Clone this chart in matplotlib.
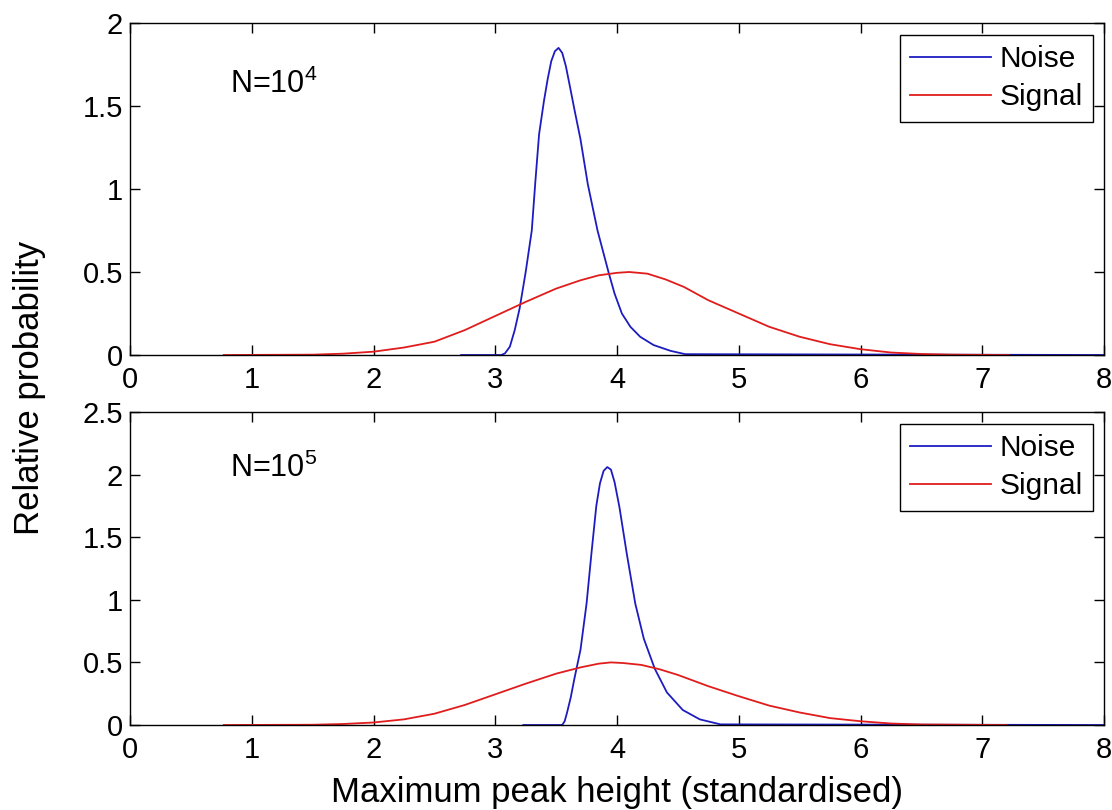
import matplotlib
matplotlib.use('Agg')
import matplotlib.pyplot as plt

plt.rcParams['font.family'] = ['Liberation Sans', 'DejaVu Sans']
plt.rcParams['mathtext.default'] = 'regular'

# N = 10^4 (top panel)
x_noise4 = [2.72, 3.05, 3.08, 3.12, 3.16, 3.20, 3.25, 3.30, 3.33, 3.36, 3.40, 3.43, 3.46,
            3.49, 3.52, 3.55, 3.58, 3.61, 3.65, 3.70, 3.76, 3.84, 3.93, 3.98, 4.04, 4.11,
            4.19, 4.30, 4.44, 4.56, 8.0]
y_noise4 = [0, 0, 0.01, 0.05, 0.15, 0.28, 0.50, 0.75, 1.05, 1.33, 1.53, 1.66, 1.77,
            1.83, 1.85, 1.82, 1.74, 1.63, 1.48, 1.30, 1.03, 0.75, 0.50, 0.37, 0.25, 0.17,
            0.11, 0.06, 0.025, 0.005, 0]
x_signal4 = [0.77, 1.5, 1.75, 2.0, 2.25, 2.5, 2.75, 3.0, 3.25, 3.5, 3.7, 3.85, 4.0, 4.1,
             4.25, 4.4, 4.55, 4.75, 5.0, 5.25, 5.5, 5.75, 6.0, 6.25, 6.5, 6.75, 7.22]
y_signal4 = [0, 0.002, 0.008, 0.02, 0.045, 0.08, 0.15, 0.235, 0.32, 0.40, 0.45, 0.48,
             0.495, 0.50, 0.49, 0.455, 0.41, 0.33, 0.25, 0.17, 0.11, 0.065, 0.035, 0.015,
             0.006, 0.002, 0]

# N = 10^5 (bottom panel)
x_noise5 = [3.23, 3.55, 3.57, 3.59, 3.62, 3.65, 3.70, 3.75, 3.79, 3.83, 3.86, 3.89, 3.92,
            3.95, 3.98, 4.02, 4.08, 4.15, 4.22, 4.31, 4.41, 4.54, 4.68, 4.85, 8.0]
y_noise5 = [0, 0, 0.03, 0.10, 0.22, 0.37, 0.60, 0.97, 1.37, 1.75, 1.93, 2.03, 2.06,
            2.04, 1.94, 1.74, 1.37, 0.97, 0.69, 0.45, 0.26, 0.12, 0.045, 0.005, 0]
x_signal5 = [0.77, 1.5, 1.75, 2.0, 2.25, 2.5, 2.75, 3.0, 3.25, 3.5, 3.7, 3.85, 3.95, 4.05,
             4.2, 4.35, 4.5, 4.75, 5.0, 5.25, 5.5, 5.75, 6.0, 6.25, 6.5, 7.2]
y_signal5 = [0, 0.002, 0.008, 0.02, 0.045, 0.09, 0.16, 0.245, 0.33, 0.41, 0.46, 0.49,
             0.50, 0.495, 0.48, 0.445, 0.40, 0.31, 0.23, 0.155, 0.10, 0.055, 0.03, 0.012,
             0.004, 0]

panels = [
    (x_noise4, y_noise4, x_signal4, y_signal4, 2.0, [0, 0.5, 1, 1.5, 2],
     ['0', '0.5', '1', '1.5', '2'], r'N=10$^{4}$', 1.58),
    (x_noise5, y_noise5, x_signal5, y_signal5, 2.5, [0, 0.5, 1, 1.5, 2, 2.5],
     ['0', '0.5', '1', '1.5', '2', '2.5'], r'N=10$^{5}$', 1.98),
]
x_ticks = [0, 1, 2, 3, 4, 5, 6, 7, 8]

fig = plt.figure(figsize=(11.12, 8.10), dpi=100)
rects = [[130 / 1112, 1 - 355 / 810, 974 / 1112, 332 / 810],
         [130 / 1112, 1 - 725 / 810, 974 / 1112, 313 / 810]]

for rect, (xn, yn, xs, ys, ymax, yt, ytl, label, ty) in zip(rects, panels):
    ax = fig.add_axes(rect)
    ax.plot(xn, yn, color='#1c1cc0', lw=1.3, label='Noise')
    ax.plot(xs, ys, color='#e01c1c', lw=1.3, label='Signal')
    ax.set_xlim(0, 8)
    ax.set_ylim(0, ymax)
    ax.set_xticks(x_ticks)
    ax.set_xticklabels([str(t) for t in x_ticks])
    ax.set_yticks(yt)
    ax.set_yticklabels(ytl)
    ax.tick_params(direction='in', length=7, width=1, top=True, right=True,
                   labelsize=21, colors='black')
    ax.tick_params(axis='x', pad=8)
    ax.tick_params(axis='y', pad=5)
    for s in ax.spines.values():
        s.set_linewidth(1.0)
    ax.text(0.82, ty, label, fontsize=22, ha='left', va='baseline')
    leg = ax.legend(loc='upper right', bbox_to_anchor=(0.9887, 1 - 12 / (rect[3] * 810)),
                    borderaxespad=0, fontsize=21.5, fancybox=False, framealpha=1,
                    edgecolor='black', handlelength=2.7, handletextpad=0.28,
                    borderpad=0.35, labelspacing=0.33)
    leg.get_frame().set_linewidth(1.0)

fig.text(30 / 1112, 1 - 388 / 810, 'Relative probability', rotation=90,
         ha='center', va='center', fontsize=25)
fig.text(617 / 1112, 1 - 802 / 810, 'Maximum peak height (standardised)',
         ha='center', va='baseline', fontsize=25)

fig.savefig('out.png', dpi=100)
